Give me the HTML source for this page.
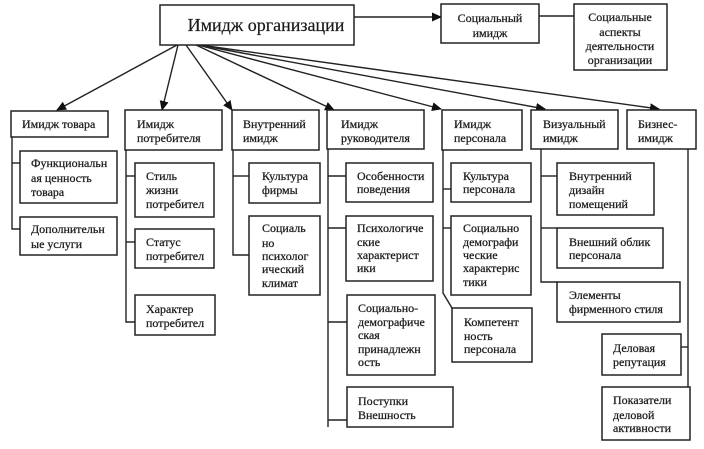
<!DOCTYPE html>
<html><head><meta charset="utf-8"><style>
html,body{margin:0;padding:0;background:#fff;}
svg{display:block;}
text{font-family:"Liberation Serif","DejaVu Serif",serif;fill:#1a1a1a;font-size:12px;stroke:#1a1a1a;stroke-width:0.25;}
.t{font-size:18px;stroke-width:0.2;}
rect{fill:#fff;stroke:#222;stroke-width:1.5;}
line,polyline{stroke:#222;stroke-width:1.4;fill:none;}
</style></head><body>
<svg width="704" height="449" viewBox="0 0 704 449" xmlns="http://www.w3.org/2000/svg">
<defs>
<marker id="ar" markerWidth="10" markerHeight="10" refX="9" refY="5" orient="auto" markerUnits="userSpaceOnUse">
<path d="M0,0.5 L10,5 L0,9.5 z" fill="#111"/>
</marker>
</defs>

<!-- arrows from main -->
<line x1="177" y1="45" x2="57" y2="110" marker-end="url(#ar)"/>
<line x1="178" y1="45" x2="162" y2="110" marker-end="url(#ar)"/>
<line x1="186" y1="45" x2="232" y2="110" marker-end="url(#ar)"/>
<line x1="196" y1="45" x2="334" y2="110" marker-end="url(#ar)"/>
<line x1="198" y1="45" x2="441" y2="109" marker-end="url(#ar)"/>
<line x1="199" y1="45" x2="545" y2="109" marker-end="url(#ar)"/>
<line x1="200" y1="45" x2="659" y2="109" marker-end="url(#ar)"/>
<line x1="354" y1="17" x2="441" y2="17" marker-end="url(#ar)"/>
<line x1="539" y1="16" x2="574" y2="16"/>

<!-- connectors -->
<polyline points="12,137 12,229 20,229"/>
<line x1="12" y1="163" x2="20" y2="163"/>

<polyline points="126,150 126,322 135,322"/>
<line x1="126" y1="176" x2="135" y2="176"/>
<line x1="126" y1="242" x2="135" y2="242"/>

<polyline points="233,150 233,255 249,255"/>
<line x1="233" y1="176" x2="249" y2="176"/>

<polyline points="328,149 328,427"/>
<line x1="328" y1="176" x2="346" y2="176"/>
<line x1="328" y1="228" x2="346" y2="228"/>
<line x1="328" y1="322" x2="347" y2="322"/>
<line x1="328" y1="420" x2="347" y2="420"/>

<polyline points="443,150 443,293 452,308"/>
<line x1="443" y1="189" x2="451" y2="189"/>
<line x1="443" y1="228" x2="451" y2="228"/>

<polyline points="541,149 541,282 557,282"/>
<line x1="541" y1="176" x2="557" y2="176"/>
<line x1="541" y1="228" x2="557" y2="228"/>

<polyline points="688,149 688,387"/>
<line x1="681" y1="347" x2="688" y2="347"/>

<!-- top boxes -->
<rect x="160" y="5" width="194" height="40"/>
<text class="t" x="266" y="31" text-anchor="middle">Имидж организации</text>

<rect x="441" y="4" width="98" height="39"/>
<text x="490" y="22" text-anchor="middle">Социальный</text>
<text x="490" y="37" text-anchor="middle">имидж</text>

<rect x="574" y="4" width="93" height="66"/>
<text x="620" y="21" text-anchor="middle">Социальные</text>
<text x="620" y="36" text-anchor="middle">аспекты</text>
<text x="620" y="50" text-anchor="middle">деятельности</text>
<text x="620" y="64" text-anchor="middle">организации</text>

<!-- level 2 -->
<rect x="11" y="111" width="97" height="26"/>
<text x="22" y="128">Имидж товара</text>

<rect x="125" y="110" width="97" height="40"/>
<text x="137" y="128">Имидж</text>
<text x="137" y="142">потребителя</text>

<rect x="232" y="110" width="87" height="40"/>
<text x="243" y="128">Внутренний</text>
<text x="243" y="142">имидж</text>

<rect x="327" y="110" width="97" height="39"/>
<text x="341" y="128">Имидж</text>
<text x="341" y="142">руководителя</text>

<rect x="442" y="110" width="80" height="40"/>
<text x="454" y="128">Имидж</text>
<text x="454" y="142">персонала</text>

<rect x="531" y="110" width="87" height="39"/>
<text x="543" y="128">Визуальный</text>
<text x="543" y="142">имидж</text>

<rect x="627" y="110" width="69" height="39"/>
<text x="638" y="128">Бизнес-</text>
<text x="638" y="142">имидж</text>

<!-- col A -->
<rect x="20" y="151" width="97" height="52"/>
<text x="31" y="167">Функциональн</text>
<text x="31" y="182">ая ценность</text>
<text x="31" y="196">товара</text>

<rect x="20" y="217" width="97" height="38"/>
<text x="31" y="233">Дополнительн</text>
<text x="31" y="248">ые услуги</text>

<!-- col B -->
<rect x="135" y="163" width="79" height="54"/>
<text x="146" y="180">Стиль</text>
<text x="146" y="194">жизни</text>
<text x="146" y="208">потребител</text>

<rect x="135" y="229" width="79" height="39"/>
<text x="146" y="246">Статус</text>
<text x="146" y="260">потребител</text>

<rect x="135" y="295" width="80" height="40"/>
<text x="146" y="313">Характер</text>
<text x="146" y="327">потребител</text>

<!-- col C -->
<rect x="249" y="163" width="71" height="40"/>
<text x="262" y="180">Культура</text>
<text x="262" y="194">фирмы</text>

<rect x="249" y="216" width="71" height="79"/>
<text x="262" y="232">Социаль</text>
<text x="262" y="247">но</text>
<text x="262" y="260">психолог</text>
<text x="262" y="273">ический</text>
<text x="262" y="287">климат</text>

<!-- col D -->
<rect x="346" y="163" width="87" height="39"/>
<text x="357" y="180">Особенности</text>
<text x="357" y="193">поведения</text>

<rect x="346" y="216" width="87" height="65"/>
<text x="357" y="232">Психологиче</text>
<text x="357" y="246">ские</text>
<text x="357" y="259">характерист</text>
<text x="357" y="272">ики</text>

<rect x="347" y="295" width="88" height="80"/>
<text x="358" y="312">Социально-</text>
<text x="358" y="326">демографиче</text>
<text x="358" y="339">ская</text>
<text x="358" y="353">принадлежн</text>
<text x="358" y="366">ость</text>

<rect x="347" y="387" width="106" height="40"/>
<text x="358" y="405">Поступки</text>
<text x="358" y="419">Внешность</text>

<!-- col E -->
<rect x="451" y="163" width="80" height="39"/>
<text x="463" y="180">Культура</text>
<text x="463" y="193">персонала</text>

<rect x="451" y="216" width="80" height="79"/>
<text x="463" y="232">Социально</text>
<text x="463" y="246">демографи</text>
<text x="463" y="259">ческие</text>
<text x="463" y="272">характерис</text>
<text x="463" y="286">тики</text>

<rect x="452" y="308" width="80" height="54"/>
<text x="464" y="326">Компетент</text>
<text x="464" y="340">ность</text>
<text x="464" y="353">персонала</text>

<!-- col F -->
<rect x="557" y="163" width="97" height="52"/>
<text x="569" y="180">Внутренний</text>
<text x="569" y="194">дизайн</text>
<text x="569" y="208">помещений</text>

<rect x="557" y="228" width="106" height="40"/>
<text x="569" y="246">Внешний облик</text>
<text x="569" y="259">персонала</text>

<rect x="557" y="282" width="123" height="40"/>
<text x="569" y="299">Элементы</text>
<text x="569" y="313">фирменного стиля</text>

<!-- col G -->
<rect x="602" y="334" width="79" height="41"/>
<text x="613" y="352">Деловая</text>
<text x="613" y="366">репутация</text>

<rect x="602" y="387" width="88" height="53"/>
<text x="613" y="404">Показатели</text>
<text x="613" y="419">деловой</text>
<text x="613" y="432">активности</text>
</svg>
</body></html>
